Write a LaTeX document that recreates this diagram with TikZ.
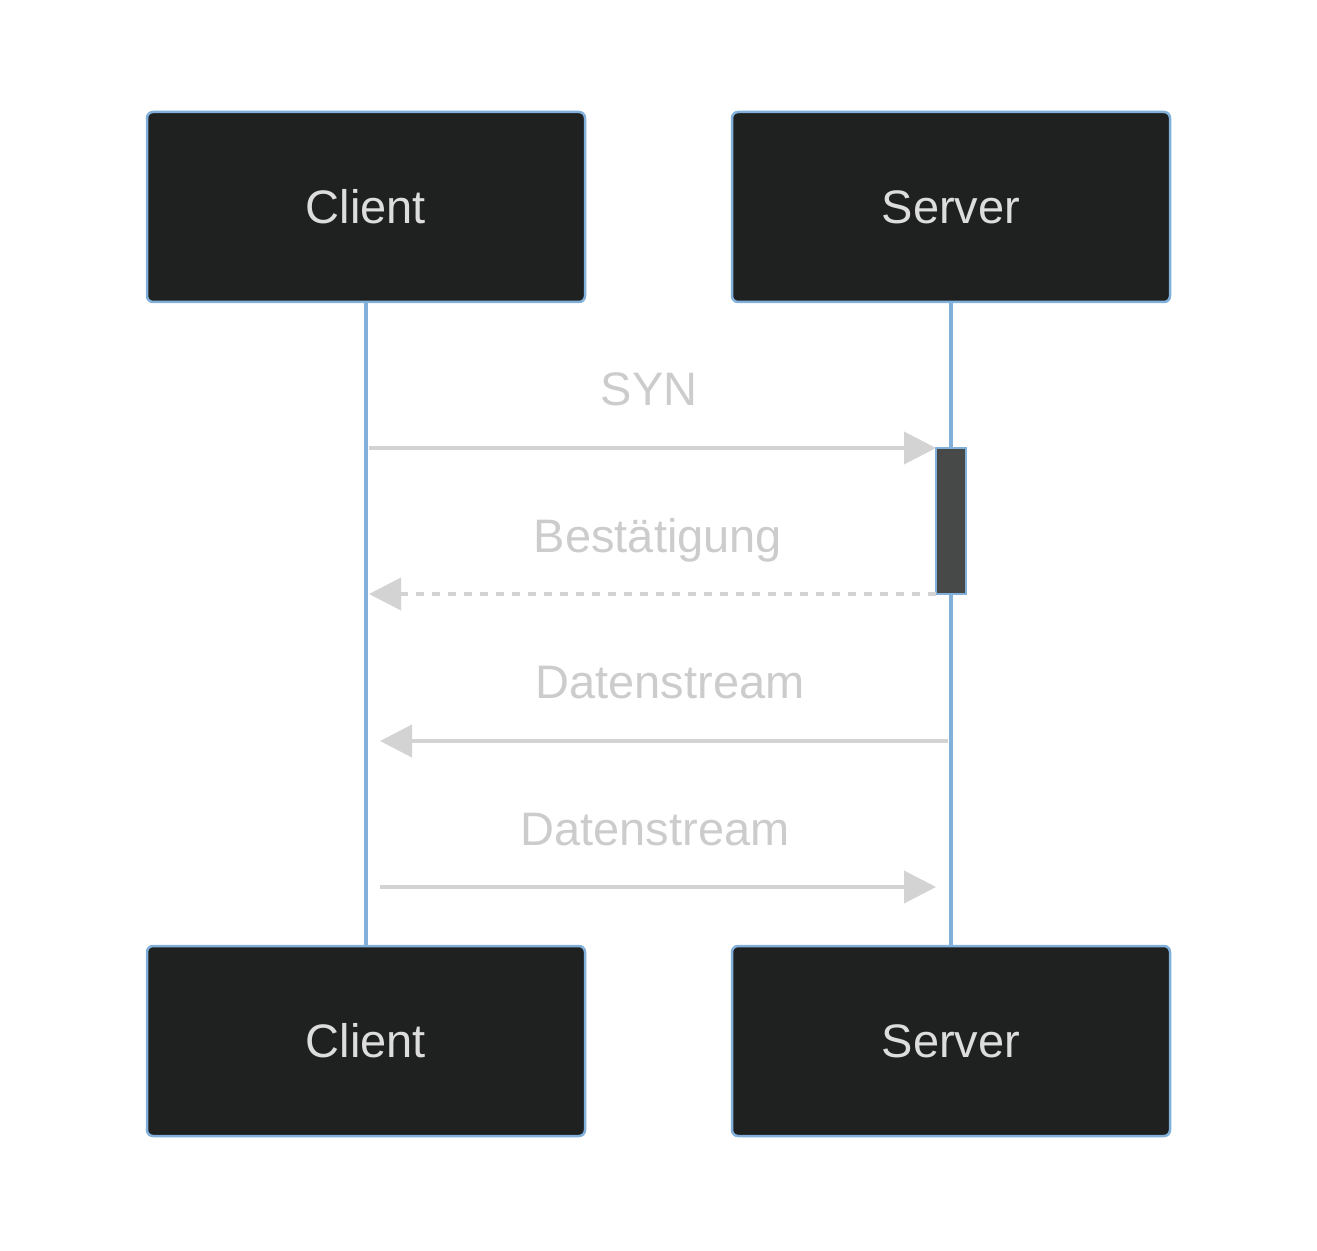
\documentclass[tikz,border=0pt]{standalone}
\usepackage{fontspec}
\setmainfont{Liberation Sans}
\usetikzlibrary{arrows.meta}

\definecolor{actorfill}{HTML}{1F2020}
\definecolor{actorline}{HTML}{81B1DB}
\definecolor{actortext}{HTML}{DDDDDD}
\definecolor{msgline}{HTML}{D3D3D3}
\definecolor{msgtext}{HTML}{CCCCCC}
\definecolor{actfill}{HTML}{474949}

\begin{document}
\begin{tikzpicture}[x=0.5pt, y=-0.5pt,
  actor/.style={draw=actorline, line width=1.25pt, fill=actorfill, rounded corners=3pt,
    minimum width=219pt, minimum height=95pt, inner sep=0pt,
    text=actortext, font=\fontsize{23.5pt}{27pt}\selectfont},
  life/.style={draw=actorline, line width=1.75pt},
  activ/.style={draw=actorline, line width=1.25pt, fill=actfill,
    minimum width=15pt, minimum height=73pt, inner sep=0pt, outer sep=0pt},
  msg/.style={draw=msgline, line width=2pt,
    -{Triangle[length=16pt, width=16pt]}},
  msglabel/.style={anchor=base, text=msgtext, font=\fontsize{23.5pt}{27pt}\selectfont}]

  \useasboundingbox (0,0) rectangle (1317,1251);

  % actors, top and bottom
  \node[actor] (ctop) at (366, 207) {Client};
  \node[actor] (stop) at (951, 207) {Server};
  \node[actor] (cbot) at (366, 1041) {Client};
  \node[actor] (sbot) at (951, 1041) {Server};

  % lifelines
  \draw[life] (ctop.south) -- (cbot.north);
  \draw[life] (stop.south) -- (sbot.north);

  % activation on the server
  \node[activ] (act) at (951, 521) {};

  % end points on the lifelines
  \coordinate (synA) at (369, 448);
  \coordinate (ackB) at (369, 594);
  \coordinate (dsA)  at (948, 741);
  \coordinate (dsB)  at (380, 741);
  \coordinate (dsC)  at (380, 887);
  \coordinate (dsD)  at (936, 887);

  % messages
  \draw[msg] (synA) -- (act.north west);
  \node[msglabel] (lsyn) at (649, 406) {SYN};

  \draw[msg, dash pattern=on 4pt off 4pt] (act.south west) -- (ackB);
  \node[msglabel] (lack) at (658, 552) {Bestätigung};

  \draw[msg] (dsA) -- (dsB);
  \node[msglabel] (lds1) at (670, 698) {Datenstream};

  \draw[msg] (dsC) -- (dsD);
  \node[msglabel] (lds2) at (655, 845) {Datenstream};

\end{tikzpicture}
\end{document}
